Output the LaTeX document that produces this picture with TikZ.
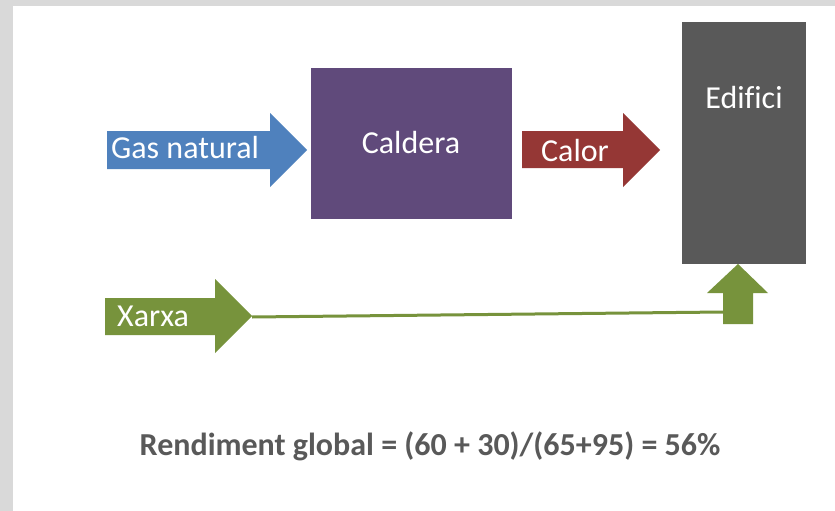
\documentclass[tikz,border=0pt]{standalone}
\usepackage{fontspec}
\setmainfont[Ligatures=CommonOff]{Carlito}
\definecolor{bgray}{HTML}{D9D9D9}
\definecolor{cblue}{HTML}{4F81BD}
\definecolor{cpurple}{HTML}{604A7B}
\definecolor{cred}{HTML}{953735}
\definecolor{cdgray}{HTML}{595959}
\definecolor{cgreen}{HTML}{77933C}
\tikzset{
  lbl/.style={text=white, font=\fontsize{32}{36}\selectfont, inner sep=0pt},
  eq/.style={text=cdgray, font=\bfseries\fontsize{32}{36}\selectfont, inner sep=0pt},
}
\begin{document}
\begin{tikzpicture}[x=1pt,y=-1pt]
\useasboundingbox (0,0) rectangle (835,511);
\fill[bgray] (0,0) rectangle (835,511);
\fill[white] (13,6) rectangle (835,511);
% Gas natural arrow
\fill[cblue] (107,131) -- (270,131) -- (270,113) -- (307,150) -- (270,187) -- (270,169) -- (107,169) -- cycle;
\node[lbl, anchor=west] (gas) at (111,148) {Gas natural};
% Caldera
\fill[cpurple] (311,68) rectangle (512,219);
\node[lbl] (caldera) at (411,143) {Caldera};
% Calor arrow
\fill[cred] (522,131) -- (623,131) -- (623,113) -- (660,150) -- (623,187) -- (623,168) -- (522,168) -- cycle;
\node[lbl] (calor) at (575,151) {Calor};
% Edifici
\fill[cdgray] (682,22) rectangle (806,264);
\node[lbl] (edifici) at (744,97) {Edifici};
% Xarxa arrow
\fill[cgreen] (105,298) -- (215,298) -- (215,279) -- (252,316) -- (215,353) -- (215,335) -- (105,335) -- cycle;
\node[lbl, anchor=west] (xarxa) at (117,316) {Xarxa};
\coordinate (xtip) at (252,317);
% Up arrow
\fill[cgreen] (723,324) -- (723,293) -- (707,293) -- (738,264) -- (768,293) -- (753,293) -- (753,324) -- cycle;
\coordinate (upin) at (723,312);
\draw[cgreen, line width=3pt] (xtip) -- (upin);
% equation
\node[eq] (rend) at (430,446) {Rendiment global = (60 + 30)/(65+95) = 56\%};
\end{tikzpicture}
\end{document}
